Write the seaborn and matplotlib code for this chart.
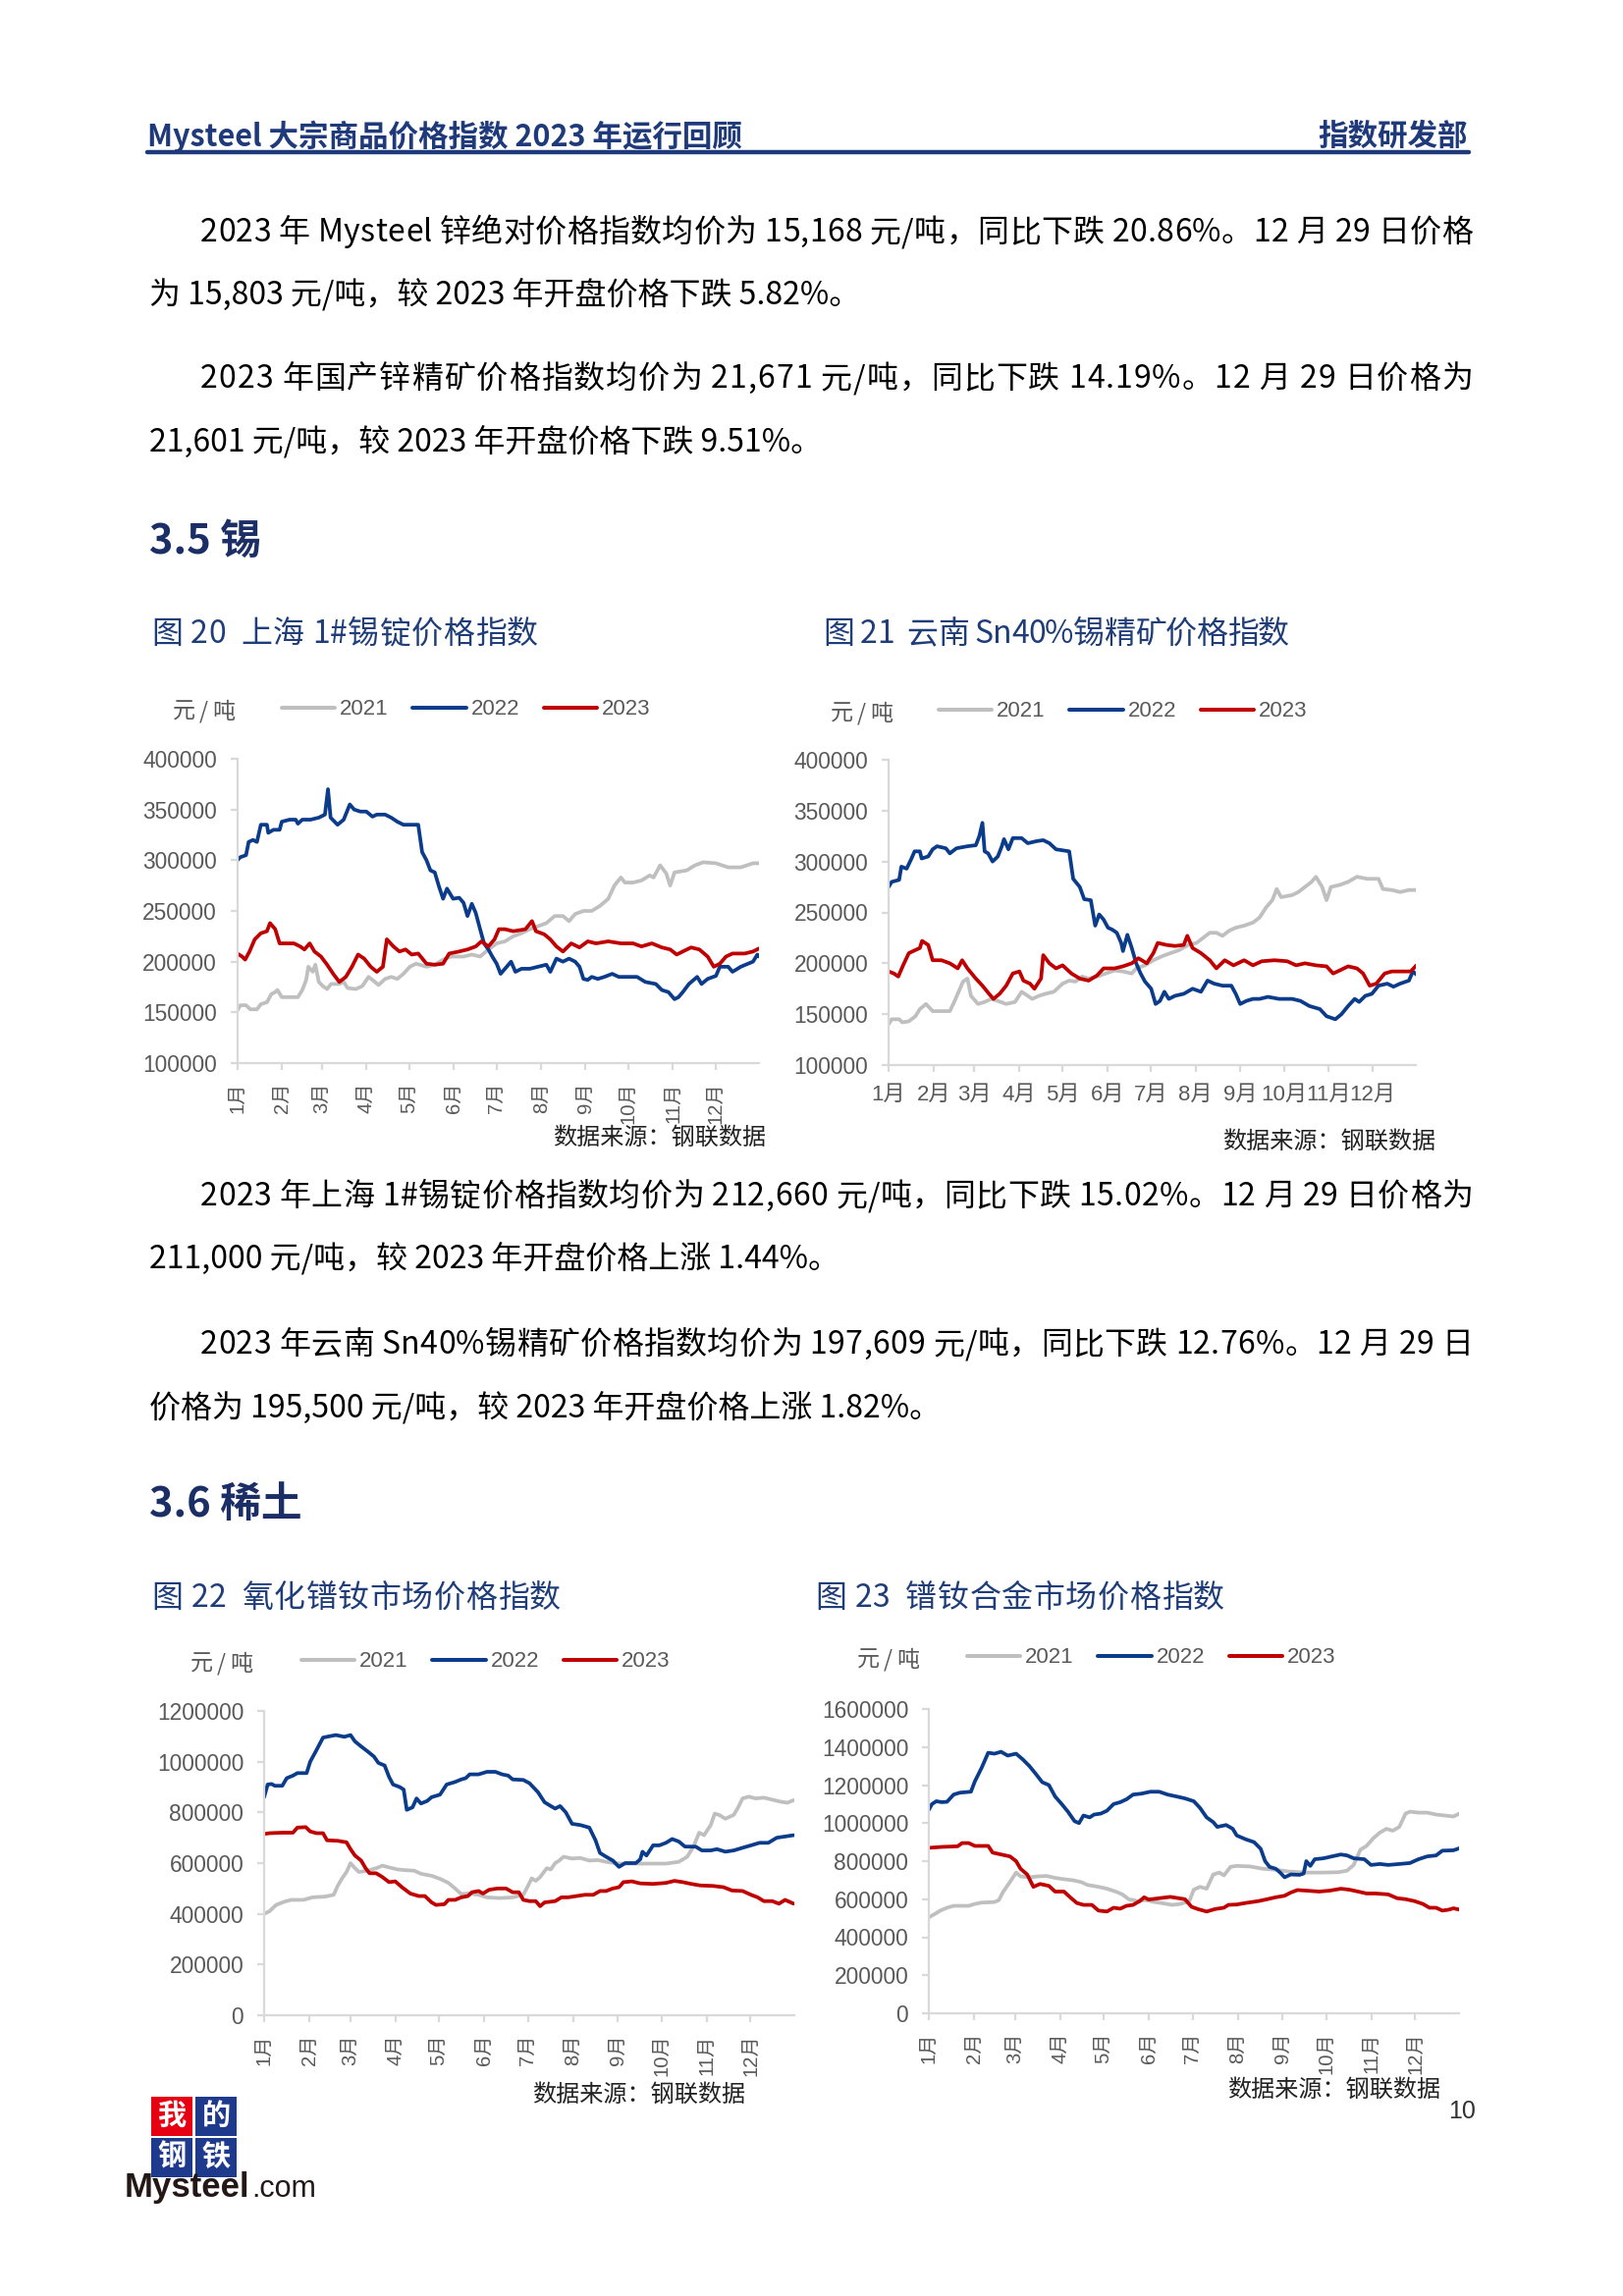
import numpy as np
import pandas as pd
import matplotlib
matplotlib.use('Agg')
import matplotlib.pyplot as plt
import seaborn as sns
from matplotlib import font_manager, ft2font
from matplotlib.lines import Line2D
from matplotlib.patches import Rectangle

# ---------------- data: (month position, 千元/吨) ----------------
TIN_SH_2021 = [(0,152),(0.07,157),(0.2,157),(0.3,153),(0.45,153),(0.54,158),(0.68,160),(0.78,168),(0.87,170),(0.92,172),
    (1.02,165),(1.11,165),(1.39,165),(1.49,172),(1.58,182),(1.63,195),(1.73,190),(1.79,197),(1.87,180),(1.96,176),
    (2.06,173),(2.15,178),(2.34,178),(2.44,180),(2.53,174),(2.72,173),(2.87,176),(3.01,185),(3.1,182),(3.24,177),
    (3.39,183),(3.53,185),(3.67,183),(3.81,188),(3.96,195),(4.1,198),(4.34,195),(4.53,197),(4.72,202),(4.9,205),
    (5.19,205),(5.38,207),(5.57,205),(5.76,212),(5.95,218),(6.14,220),(6.33,225),(6.52,228),(6.71,232),(6.9,235),
    (7.09,238),(7.28,245),(7.47,245),(7.61,240),(7.75,247),(7.94,250),(8.13,250),(8.32,255),(8.51,262),(8.65,275),
    (8.8,283),(8.89,278),(9.08,278),(9.27,280),(9.46,285),(9.55,283),(9.7,295),(9.84,287),(9.93,275),(10.03,288),
    (10.31,290),(10.5,295),(10.69,298),(10.98,297),(11.26,293),(11.55,293),(11.83,297),(11.97,297)]
TIN_SH_2022 = [(0,300),(0.07,303),(0.2,305),(0.26,318),(0.36,320),(0.45,318),(0.54,335),(0.68,335),(0.71,327),(0.83,330),
    (0.97,330),(1.02,338),(1.2,340),(1.34,340),(1.39,336),(1.49,340),(1.68,340),(1.87,342),(2.01,345),(2.08,370),
    (2.14,342),(2.3,335),(2.44,340),(2.58,355),(2.68,350),(2.82,348),(2.96,348),(3.1,343),(3.2,345),(3.39,345),
    (3.53,342),(3.67,338),(3.81,335),(4.15,335),(4.24,308),(4.34,300),(4.43,290),(4.53,288),(4.62,275),(4.72,262),
    (4.81,272),(4.95,262),(5.09,263),(5.19,258),(5.28,245),(5.38,257),(5.47,248),(5.57,232),(5.66,218),(5.76,212),
    (5.85,205),(5.95,198),(6.04,188),(6.18,195),(6.28,200),(6.38,190),(6.52,193),(6.71,193),(6.9,195),(7.09,197),
    (7.18,190),(7.32,203),(7.47,200),(7.61,203),(7.75,200),(7.85,195),(7.94,183),(8.04,182),(8.13,185),(8.27,183),
    (8.42,185),(8.6,188),(8.75,185),(8.89,185),(9.17,185),(9.36,180),(9.6,178),(9.74,172),(9.89,170),(10.03,163),
    (10.12,165),(10.22,170),(10.36,178),(10.55,185),(10.65,178),(10.79,183),(10.98,186),(11.07,195),(11.26,195),
    (11.36,190),(11.55,195),(11.83,200),(11.93,207),(11.97,205)]
TIN_SH_2023 = [(0,208),(0.11,205),(0.18,202),(0.28,210),(0.4,222),(0.54,228),(0.68,230),(0.75,238),(0.87,232),(0.97,218),
    (1.11,218),(1.3,218),(1.44,215),(1.54,212),(1.66,218),(1.77,210),(1.92,205),(2.06,197),(2.2,188),(2.34,180),
    (2.49,185),(2.63,195),(2.77,207),(2.91,203),(3.06,195),(3.2,190),(3.34,195),(3.43,222),(3.58,215),(3.72,210),
    (3.86,212),(4.0,207),(4.15,208),(4.34,198),(4.53,197),(4.72,198),(4.86,208),(5.09,210),(5.28,212),(5.47,215),
    (5.6,220),(5.76,215),(5.9,222),(6.0,232),(6.14,232),(6.33,230),(6.61,232),(6.76,240),(6.85,230),(7.04,227),
    (7.18,222),(7.32,215),(7.47,210),(7.66,218),(7.85,214),(8.04,220),(8.23,218),(8.51,220),(8.8,218),(9.08,218),
    (9.27,215),(9.51,218),(9.74,214),(9.93,212),(10.08,207),(10.22,210),(10.41,214),(10.6,212),(10.79,205),(10.93,195),
    (11.07,198),(11.21,205),(11.36,208),(11.64,208),(11.83,210),(11.97,213)]

TIN_YN_2021 = [(0,140),(0.07,145),(0.24,145),(0.31,142),(0.46,143),(0.61,148),(0.71,155),(0.85,160),(1.0,153),(1.39,153),
    (1.49,162),(1.59,172),(1.69,182),(1.79,185),(1.87,168),(2.03,160),(2.18,162),(2.33,165),(2.48,163),(2.67,160),
    (2.87,162),(3.02,172),(3.16,168),(3.26,165),(3.41,168),(3.56,170),(3.75,172),(3.95,180),(4.1,183),(4.24,182),
    (4.39,187),(4.54,185),(4.73,187),(4.93,190),(5.13,193),(5.32,192),(5.52,190),(5.62,195),(5.82,198),(6.01,203),
    (6.21,207),(6.4,210),(6.6,213),(6.8,218),(6.99,220),(7.14,225),(7.29,230),(7.44,230),(7.58,227),(7.73,232),
    (7.88,235),(8.07,237),(8.27,240),(8.42,245),(8.57,255),(8.71,262),(8.81,273),(8.91,265),(9.16,267),(9.3,270),
    (9.45,275),(9.6,280),(9.7,285),(9.84,275),(9.94,262),(10.04,275),(10.24,277),(10.43,280),(10.63,285),(10.87,283),
    (11.12,283),(11.22,273),(11.42,272),(11.61,270),(11.81,272),(11.98,272)]
TIN_YN_2022 = [(0,275),(0.07,280),(0.24,282),(0.29,295),(0.41,293),(0.51,302),(0.59,310),(0.71,310),(0.75,303),(0.9,305),
    (1.0,312),(1.1,315),(1.3,313),(1.39,308),(1.54,313),(1.79,315),(1.98,316),(2.06,325),(2.13,338),(2.18,310),
    (2.26,308),(2.36,300),(2.48,305),(2.57,315),(2.62,322),(2.72,312),(2.82,323),(3.02,323),(3.16,318),(3.36,320),
    (3.51,321),(3.65,318),(3.8,312),(4.1,310),(4.19,283),(4.34,275),(4.44,263),(4.59,262),(4.69,237),(4.78,248),
    (4.88,243),(4.98,235),(5.08,233),(5.18,230),(5.28,220),(5.32,212),(5.42,228),(5.52,215),(5.62,200),(5.72,190),
    (5.82,182),(5.96,175),(6.06,160),(6.16,163),(6.26,172),(6.36,165),(6.5,168),(6.7,170),(6.9,175),(7.09,172),
    (7.24,183),(7.39,180),(7.58,178),(7.78,178),(7.88,170),(7.98,160),(8.12,163),(8.27,165),(8.42,165),(8.61,167),
    (8.86,165),(9.16,165),(9.35,163),(9.55,158),(9.79,155),(9.94,148),(10.14,145),(10.28,150),(10.43,158),(10.58,165),
    (10.68,162),(10.82,168),(10.97,170),(11.12,178),(11.32,180),(11.46,177),(11.61,180),(11.81,183),(11.9,192),(11.98,189)]
TIN_YN_2023 = [(0,192),(0.12,190),(0.22,187),(0.33,198),(0.46,210),(0.61,213),(0.71,215),(0.76,222),(0.9,218),(1.0,203),
    (1.2,203),(1.39,200),(1.57,195),(1.67,203),(1.79,195),(1.98,185),(2.13,178),(2.28,170),(2.38,165),(2.52,170),
    (2.67,178),(2.82,190),(2.97,192),(3.06,183),(3.21,180),(3.31,175),(3.46,185),(3.51,208),(3.65,200),(3.8,195),
    (3.95,198),(4.15,190),(4.34,185),(4.54,183),(4.73,188),(4.88,195),(5.13,195),(5.32,197),(5.52,200),(5.67,205),
    (5.86,200),(6.01,210),(6.11,220),(6.31,218),(6.5,217),(6.7,218),(6.78,227),(6.9,215),(7.09,210),(7.29,203),
    (7.44,195),(7.63,203),(7.83,198),(8.07,203),(8.27,198),(8.47,202),(8.76,203),(9.05,202),(9.25,198),(9.45,200),
    (9.7,198),(9.94,197),(10.09,190),(10.24,193),(10.43,197),(10.63,195),(10.77,190),(10.92,178),(11.07,180),(11.26,190),
    (11.42,192),(11.71,192),(11.85,192),(11.98,198)]

PRND_OX_2021 = [(0,400),(0.12,410),(0.27,435),(0.46,448),(0.61,455),(0.89,455),(1.09,465),(1.38,468),(1.57,475),(1.66,510),
    (1.76,540),(1.86,565),(1.95,600),(2.05,580),(2.14,565),(2.34,570),(2.53,580),(2.67,590),(2.82,583),(3.01,575),
    (3.2,572),(3.39,570),(3.54,558),(3.78,550),(3.97,538),(4.16,522),(4.31,500),(4.45,478),(4.64,480),(4.84,475),
    (5.03,465),(5.32,462),(5.61,465),(5.85,475),(5.94,505),(6.04,540),(6.13,530),(6.23,545),(6.38,580),(6.47,575),
    (6.57,600),(6.66,610),(6.76,625),(6.95,618),(7.14,620),(7.34,610),(7.53,612),(7.72,605),(8.01,598),(8.3,598),
    (8.68,598),(9.07,598),(9.36,605),(9.55,625),(9.69,665),(9.82,720),(9.93,710),(10.08,750),(10.17,795),(10.27,790),
    (10.41,775),(10.6,790),(10.7,820),(10.8,855),(10.94,862),(11.09,855),(11.28,858),(11.47,850),(11.66,842),(11.81,838),
    (11.95,848)]
PRND_OX_2022 = [(0,860),(0.08,910),(0.17,912),(0.24,905),(0.41,905),(0.51,935),(0.65,945),(0.75,955),(0.96,955),(1.04,1000),
    (1.18,1045),(1.33,1095),(1.47,1100),(1.62,1105),(1.81,1098),(1.95,1105),(2.05,1080),(2.19,1060),(2.34,1040),(2.48,1020),
    (2.58,995),(2.72,985),(2.82,940),(2.91,910),(3.06,900),(3.15,890),(3.22,810),(3.35,820),(3.44,855),(3.54,835),
    (3.68,845),(3.78,860),(3.97,870),(4.12,910),(4.31,920),(4.45,930),(4.55,935),(4.64,950),(4.84,950),(5.03,960),
    (5.22,960),(5.37,950),(5.51,945),(5.61,930),(5.85,928),(5.99,915),(6.18,880),(6.33,840),(6.47,825),(6.57,815),
    (6.68,825),(6.81,800),(6.95,755),(7.14,750),(7.34,740),(7.48,690),(7.58,640),(7.72,625),(7.87,610),(8.01,585),
    (8.15,600),(8.39,600),(8.49,615),(8.54,645),(8.63,630),(8.78,670),(8.92,670),(9.07,680),(9.21,695),(9.36,685),
    (9.5,665),(9.74,665),(9.88,650),(10.08,650),(10.22,655),(10.41,645),(10.6,650),(10.79,660),(10.99,670),(11.18,680),
    (11.38,680),(11.57,700),(11.76,705),(11.95,710)]
PRND_OX_2023 = [(0,715),(0.12,718),(0.41,720),(0.65,720),(0.75,740),(0.94,742),(1.04,725),(1.18,718),(1.33,718),(1.42,690),
    (1.66,688),(1.86,682),(1.95,655),(2.05,630),(2.19,610),(2.29,580),(2.38,560),(2.53,560),(2.67,545),(2.82,525),
    (2.96,528),(3.11,505),(3.3,480),(3.49,470),(3.63,470),(3.78,445),(3.88,435),(4.07,438),(4.16,455),(4.31,455),
    (4.45,465),(4.6,470),(4.69,485),(4.84,490),(4.94,480),(5.08,495),(5.27,500),(5.46,500),(5.61,485),(5.75,485),
    (5.85,455),(5.99,450),(6.13,450),(6.23,430),(6.33,445),(6.57,450),(6.71,465),(6.86,465),(7.05,470),(7.24,475),
    (7.43,475),(7.58,490),(7.72,490),(7.87,500),(8.01,505),(8.11,525),(8.3,528),(8.49,520),(8.78,518),(9.07,522),
    (9.26,530),(9.45,525),(9.64,518),(9.84,512),(10.13,510),(10.37,505),(10.56,492),(10.8,490),(10.99,475),(11.14,465),
    (11.28,450),(11.47,450),(11.62,440),(11.76,455),(11.95,440)]

PRND_AL_2021 = [(0,505),(0.12,520),(0.26,540),(0.41,555),(0.56,565),(0.9,565),(1.04,575),(1.19,582),(1.48,585),(1.58,595),
    (1.68,640),(1.83,690),(1.97,740),(2.07,720),(2.27,715),(2.46,720),(2.66,722),(2.85,712),(3.05,705),(3.24,700),
    (3.44,690),(3.58,675),(3.83,665),(4.02,655),(4.22,640),(4.37,625),(4.51,600),(4.71,590),(4.9,595),(5.1,585),
    (5.29,578),(5.49,570),(5.68,575),(5.88,590),(5.98,650),(6.12,665),(6.27,655),(6.42,730),(6.56,740),(6.66,725),
    (6.81,770),(6.95,775),(7.25,772),(7.54,760),(7.83,755),(8.13,745),(8.52,740),(8.91,740),(9.25,742),(9.44,750),
    (9.59,780),(9.74,860),(9.88,880),(10.03,920),(10.18,950),(10.33,970),(10.47,960),(10.62,980),(10.76,1050),(10.86,1060),
    (11.05,1055),(11.25,1055),(11.45,1045),(11.64,1040),(11.84,1035),(11.98,1050)]
PRND_AL_2022 = [(0,1070),(0.07,1100),(0.17,1115),(0.29,1110),(0.41,1112),(0.56,1150),(0.7,1160),(0.95,1165),(1.04,1220),(1.19,1290),
    (1.34,1370),(1.48,1365),(1.63,1375),(1.78,1355),(1.97,1365),(2.12,1335),(2.27,1300),(2.41,1260),(2.56,1215),(2.71,1200),
    (2.85,1140),(3.0,1100),(3.14,1060),(3.29,1010),(3.39,1000),(3.49,1040),(3.63,1030),(3.73,1045),(3.88,1050),(4.02,1065),
    (4.17,1100),(4.32,1110),(4.46,1125),(4.61,1150),(4.8,1155),(5.0,1165),(5.2,1165),(5.39,1150),(5.59,1140),(5.78,1130),
    (5.98,1115),(6.12,1080),(6.27,1030),(6.42,1005),(6.51,980),(6.71,990),(6.86,970),(6.95,935),(7.15,915),(7.34,900),
    (7.49,865),(7.59,800),(7.69,770),(7.83,760),(7.93,740),(8.03,715),(8.17,730),(8.37,728),(8.46,735),(8.52,800),
    (8.61,775),(8.71,810),(8.91,815),(9.1,825),(9.3,835),(9.44,830),(9.59,815),(9.83,810),(9.98,780),(10.18,785),
    (10.37,780),(10.62,785),(10.86,790),(11.05,810),(11.25,825),(11.45,830),(11.59,855),(11.84,857),(11.98,868)]
PRND_AL_2023 = [(0,870),(0.31,875),(0.65,878),(0.75,895),(0.9,895),(1.04,880),(1.34,880),(1.44,845),(1.63,835),(1.83,825),
    (1.97,800),(2.07,760),(2.22,730),(2.36,665),(2.51,680),(2.71,670),(2.85,640),(3.05,640),(3.19,610),(3.34,580),
    (3.49,570),(3.68,570),(3.83,540),(4.02,535),(4.17,555),(4.32,550),(4.46,565),(4.61,570),(4.76,590),(4.86,610),
    (4.96,598),(5.2,605),(5.45,612),(5.64,605),(5.78,600),(5.93,560),(6.07,548),(6.27,535),(6.46,548),(6.66,555),
    (6.76,570),(6.95,572),(7.15,580),(7.44,590),(7.64,600),(7.83,610),(8.03,618),(8.17,635),(8.32,648),(8.52,645),
    (8.81,640),(9.05,645),(9.3,655),(9.49,650),(9.69,640),(9.88,630),(10.08,630),(10.37,625),(10.57,605),(10.76,600),
    (10.96,590),(11.15,575),(11.3,555),(11.45,555),(11.59,540),(11.74,545),(11.84,552),(11.98,545)]

YEARS = ['2021', '2022', '2023']
MONTH_START_DAYS = [0, 31, 59, 90, 120, 151, 181, 212, 243, 273, 304, 334]
MONTH_LABELS = ['1月', '2月', '3月', '4月', '5月', '6月', '7月', '8月', '9月', '10月', '11月', '12月']

HEADER_LEFT = 'Mysteel 大宗商品价格指数 2023 年运行回顾'
HEADER_RIGHT = '指数研发部'
PARA1 = ['2023 年 Mysteel 锌绝对价格指数均价为 15,168 元/吨，同比下跌 20.86%。12 月 29 日价格',
         '为 15,803 元/吨，较 2023 年开盘价格下跌 5.82%。']
PARA2 = ['2023 年国产锌精矿价格指数均价为 21,671 元/吨，同比下跌 14.19%。12 月 29 日价格为',
         '21,601 元/吨，较 2023 年开盘价格下跌 9.51%。']
PARA3 = ['2023 年上海 1#锡锭价格指数均价为 212,660 元/吨，同比下跌 15.02%。12 月 29 日价格为',
         '211,000 元/吨，较 2023 年开盘价格上涨 1.44%。']
PARA4 = ['2023 年云南 Sn40%锡精矿价格指数均价为 197,609 元/吨，同比下跌 12.76%。12 月 29 日',
         '价格为 195,500 元/吨，较 2023 年开盘价格上涨 1.82%。']
SEC_35 = '3.5 锡'
SEC_36 = '3.6 稀土'
TITLES = ['图 20  上海 1#锡锭价格指数', '图 21  云南 Sn40%锡精矿价格指数',
          '图 22  氧化镨钕市场价格指数', '图 23  镨钕合金市场价格指数']
UNIT = '元/吨'
SOURCE = '数据来源：钢联数据'
PAGE_NO = '10'

# ---------------- style ----------------
W, H, DPI = 1653, 2339, 200
GRAY, BLUE, RED = '#BFBFBF', '#0B3C8C', '#C00000'
PALETTE = dict(zip(YEARS, [GRAY, BLUE, RED]))
NAVY = '#1F3A7A'
TITLE_C = '#1F3D78'
AXIS_C = '#D9D9D9'
LABEL_C = '#595959'
NUM_FONT = ['Liberation Sans', 'DejaVu Sans']
MON_FONT = ['Liberation Sans', 'Noto Sans CJK SC']
LW = 1.35

sns.set_theme(style='white')
plt.rcParams['font.family'] = ['Noto Sans CJK SC', 'DejaVu Sans']
plt.rcParams['axes.unicode_minus'] = False

fig = plt.figure(figsize=(W / DPI, H / DPI), dpi=DPI, facecolor='white')


def fx(px):
    return px / W


def fy(py):
    return 1 - py / H


_fonts = {}


def advances(s, size, weight):
    key = (size, weight)
    if key not in _fonts:
        path = font_manager.findfont(font_manager.FontProperties(family='Noto Sans CJK SC', weight=weight))
        f = ft2font.FT2Font(path, hinting_factor=1)
        f.set_size(size, DPI)
        _fonts[key] = f
    f = _fonts[key]
    out = []
    for c in s:
        g = f.load_char(ord(c))
        out.append(g.linearHoriAdvance / 65536.0)
    return out


def text_line(s, x0, yc, size, color='black', x1=None, weight='normal'):
    em = size * DPI / 72
    base = yc + 0.38 * em
    if x1 is None:
        fig.text(fx(x0), fy(base), s, fontsize=size, color=color, ha='left', va='baseline',
                 fontweight=weight)
        return
    adv = advances(s, size, weight)
    gap = (x1 - x0 - sum(adv)) / (len(s) - 1)
    x = x0
    for c, a in zip(s, adv):
        if c != ' ':
            fig.text(fx(x), fy(base), c, fontsize=size, color=color, ha='left', va='baseline',
                     fontweight=weight)
        x += a + gap


# ---------------- page text ----------------
fig.text(fx(150), fy(139), HEADER_LEFT, fontsize=11, fontweight='bold', color=NAVY, ha='left', va='center')
fig.text(fx(1495), fy(139), HEADER_RIGHT, fontsize=11, fontweight='bold', color=NAVY, ha='right', va='center')
fig.add_artist(Line2D([fx(150), fx(1496)], [fy(155), fy(155)], color=NAVY, lw=1.6,
                      transform=fig.transFigure))

BODY = 11.5
text_line(PARA1[0], 204, 234, BODY, x1=1500)
text_line(PARA1[1], 152, 298, BODY)
text_line(PARA2[0], 204, 383, BODY, x1=1500)
text_line(PARA2[1], 152, 448, BODY)
text_line(SEC_35, 152, 548, 15, color='#1C2E66', weight='bold')
text_line(TITLES[0], 154, 643, 11.5, color=TITLE_C, x1=548)
text_line(TITLES[1], 838, 643, 11.5, color=TITLE_C, x1=1313)
text_line(PARA3[0], 204, 1216, BODY, x1=1500)
text_line(PARA3[1], 152, 1280, BODY)
text_line(PARA4[0], 204, 1367, BODY, x1=1500)
text_line(PARA4[1], 152, 1432, BODY)
text_line(SEC_36, 152, 1529, 15, color='#1C2E66', weight='bold')
text_line(TITLES[2], 154, 1625, 11.5, color=TITLE_C, x1=571)
text_line(TITLES[3], 830, 1625, 11.5, color=TITLE_C, x1=1247)

fig.text(fx(1503), fy(2151), PAGE_NO, fontsize=9, color='#333333', ha='right', va='center',
         family=['Liberation Sans', 'DejaVu Sans'])

# ---------------- charts ----------------
CHARTS = [
    dict(series=[TIN_SH_2021, TIN_SH_2022, TIN_SH_2023], box=(241.7, 773, 773, 1083),
         ylim=(100000, 400000), ystep=50000, rot=90, leg=(287, 723), unit=(176, 723), src=(780, 1159)),
    dict(series=[TIN_YN_2021, TIN_YN_2022, TIN_YN_2023], box=(905, 1442, 774, 1085),
         ylim=(100000, 400000), ystep=50000, rot=0, leg=(956, 725), unit=(846, 725), src=(1462, 1163)),
    dict(series=[PRND_OX_2021, PRND_OX_2022, PRND_OX_2023], box=(269, 809, 1743, 2053),
         ylim=(0, 1200000), ystep=200000, rot=90, leg=(307, 1693), unit=(194, 1693), src=(759, 2134)),
    dict(series=[PRND_AL_2021, PRND_AL_2022, PRND_AL_2023], box=(946, 1486, 1741, 2051),
         ylim=(0, 1600000), ystep=200000, rot=90, leg=(985, 1689), unit=(873, 1689), src=(1467, 2129)),
]

for ch in CHARTS:
    left, right, top, bottom = ch['box']
    ax = fig.add_axes([fx(left), fy(bottom), (right - left) / W, (bottom - top) / H])
    frames = []
    for year, pairs in zip(YEARS, ch['series']):
        arr = np.array(pairs, dtype=float)
        frames.append(pd.DataFrame({'day': arr[:, 0] * 365 / 12, 'value': arr[:, 1] * 1000, 'year': year}))
    df = pd.concat(frames, ignore_index=True)
    sns.lineplot(data=df, x='day', y='value', hue='year', hue_order=YEARS, palette=PALETTE,
                 estimator=None, linewidth=LW, ax=ax, legend=False)
    ax.set_xlim(0, 364)
    ax.set_ylim(*ch['ylim'])
    yt = np.arange(ch['ylim'][0], ch['ylim'][1] + 1, ch['ystep'])
    ax.set_yticks(yt)
    ax.set_yticklabels([str(int(v)) for v in yt], family=NUM_FONT, fontsize=8.2, color=LABEL_C)
    ax.set_xticks(MONTH_START_DAYS)
    ax.set_xticklabels(MONTH_LABELS, family=MON_FONT, fontsize=8 if ch['rot'] == 0 else 7.3,
                       rotation=ch['rot'], color=LABEL_C)
    ax.set_xlabel('')
    ax.set_ylabel('')
    ax.set_facecolor('none')
    ax.grid(False)
    for s in ['top', 'right']:
        ax.spines[s].set_visible(False)
    for s in ['left', 'bottom']:
        ax.spines[s].set_color(AXIS_C)
        ax.spines[s].set_linewidth(0.8)
    ax.tick_params(axis='both', which='major', direction='out', length=2.5, width=0.8,
                   color=AXIS_C, bottom=True, left=True)
    ax.tick_params(axis='y', pad=5)
    ax.tick_params(axis='x', pad=4.5)

    handles = [Line2D([], [], color=PALETTE[y], lw=LW + 0.1) for y in YEARS]
    ax.legend(handles, YEARS, ncol=3, loc='center left',
              bbox_to_anchor=(fx(ch['leg'][0]), fy(ch['leg'][1])), bbox_transform=fig.transFigure,
              frameon=False, borderpad=0, borderaxespad=0, handlelength=2.45, handletextpad=0.22,
              columnspacing=1.1, prop=font_manager.FontProperties(family=NUM_FONT, size=8),
              labelcolor=LABEL_C)
    text_line(UNIT, ch['unit'][0], ch['unit'][1], 8.3, color=LABEL_C, x1=ch['unit'][0] + 63)
    fig.text(fx(ch['src'][0]), fy(ch['src'][1]), SOURCE, fontsize=8.7, color='#222222', ha='right', va='center')

# ---------------- logo ----------------
LOGO = [('我', 154, 2136, '#E60012'), ('的', 199, 2136, '#1E3A8C'),
        ('钢', 154, 2178, '#1E3A8C'), ('铁', 199, 2178, '#1E3A8C')]
for ch_, x, y, c in LOGO:
    fig.add_artist(Rectangle((fx(x), fy(y + 40)), 42 / W, 40 / H, transform=fig.transFigure,
                             facecolor=c, edgecolor='none'))
    fig.text(fx(x + 21), fy(y + 19), ch_, fontsize=10.5, fontweight='bold', color='white',
             ha='center', va='center')
fig.text(fx(127), fy(2238), 'Mysteel', fontsize=12.5, fontweight='bold', color='#231815',
         ha='left', va='baseline', family=['Liberation Sans', 'DejaVu Sans'])
fig.text(fx(256), fy(2238), '.com', fontsize=11, color='#231815', ha='left', va='baseline',
         family=['Liberation Sans', 'DejaVu Sans'])

fig.savefig('out.png', dpi=DPI, facecolor='white')
